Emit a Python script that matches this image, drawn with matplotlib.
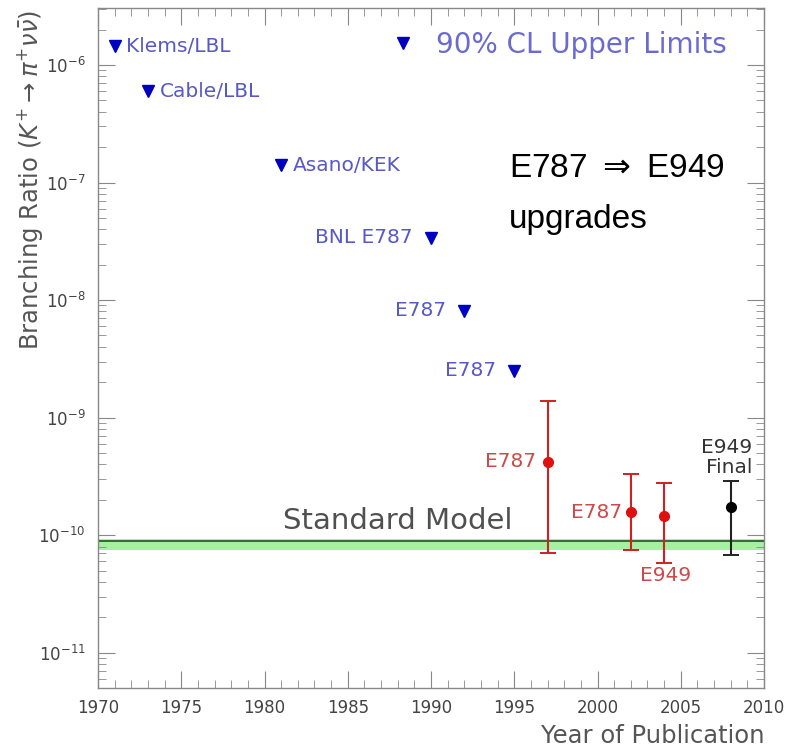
import matplotlib.pyplot as plt
from matplotlib.ticker import MultipleLocator, LogLocator, NullFormatter

# upper limits (90% CL)
ul_years = [1971, 1973, 1981, 1990, 1992, 1995]
ul_values = [1.45e-6, 6.0e-7, 1.4e-7, 3.4e-8, 8.1e-9, 2.5e-9]
ul_labels = ["Klems/LBL", "Cable/LBL", "Asano/KEK", "BNL E787", "E787", "E787"]

# measurements
meas_years = [1997, 2002, 2004]
meas_values = [4.2e-10, 1.57e-10, 1.47e-10]
meas_upper = [13.9e-10, 3.32e-10, 2.77e-10]
meas_lower = [0.70e-10, 0.75e-10, 0.58e-10]
meas_labels = ["E787", "E787", "E949"]

final_year = [2008]
final_value = [1.73e-10]
final_upper = [2.88e-10]
final_lower = [0.68e-10]

# standard model band
sm_line = 9.0e-11
sm_low = 7.5e-11
sm_high = 9.2e-11

y_decades = [-11, -10, -9, -8, -7, -6]

plt.rcParams['font.family'] = 'DejaVu Sans'
plt.rcParams['mathtext.fontset'] = 'dejavusans'

fig = plt.figure(figsize=(7.99, 7.52), dpi=100)
ax = fig.add_axes([0.1227, 0.0851, 0.8335, 0.9043])

ax.set_yscale('log')
ax.set_xlim(1970, 2010)
ax.set_ylim(10**-11.3, 10**-5.515)

gray = '#555555'
blue_txt = '#5858c8'
red_txt = '#d04848'
lab_fs = 14.5

# SM band
ax.axhspan(sm_low, sm_high, color='#a8eea4', lw=0, zorder=1)
ax.axhline(sm_line, color='#2e5e2e', lw=1.3, zorder=2)
ax.text(1988.0, 1.01e-10, "Standard Model", fontsize=21, color='#505050',
        ha='center', va='bottom')

# upper limits
tri, = ax.plot(ul_years, ul_values, linestyle='none', marker='v', ms=8,
               color='#0000c0', zorder=3)
for i, (x, y, lab) in enumerate(zip(ul_years, ul_values, ul_labels)):
    if i < 3:
        ax.text(x + 0.7, y, lab, fontsize=lab_fs, color=blue_txt, ha='left', va='center')
    else:
        ax.text(x - 1.1, y, lab, fontsize=lab_fs, color=blue_txt, ha='right', va='center')

# measurements
for x, y, hi, lo in zip(meas_years, meas_values, meas_upper, meas_lower):
    ax.errorbar([x], [y], yerr=[[y - lo], [hi - y]], fmt='o', ms=7,
                color='#e01010', ecolor='#d02020', elinewidth=1.5, capsize=6,
                capthick=1.4, zorder=4)
ax.text(meas_years[0] - 0.7, meas_values[0], meas_labels[0], fontsize=lab_fs,
        color=red_txt, ha='right', va='center')
ax.text(meas_years[1] - 0.5, meas_values[1], meas_labels[1], fontsize=lab_fs,
        color=red_txt, ha='right', va='center')
ax.text(meas_years[2] + 0.1, meas_lower[2] * 0.95, meas_labels[2], fontsize=lab_fs,
        color=red_txt, ha='center', va='top')

ax.errorbar(final_year, final_value,
            yerr=[[final_value[0] - final_lower[0]], [final_upper[0] - final_value[0]]],
            fmt='o', ms=7, color='black', ecolor='#222222', elinewidth=1.5,
            capsize=6, capthick=1.4, zorder=4)
ax.text(2009.3, 5.6e-10, "E949", fontsize=lab_fs, color='#333333', ha='right', va='center')
ax.text(2009.3, 3.8e-10, "Final", fontsize=lab_fs, color='#333333', ha='right', va='center')

# legend for upper limits
ax.legend([tri], ["90% CL Upper Limits"], loc='center left', frameon=False,
          fontsize=20, labelcolor='#6a6ad0', handlelength=0.6, handletextpad=0.9,
          bbox_to_anchor=(0.445, 0.946), borderaxespad=0, borderpad=0)

ax.text(0.617, 0.7515, r"E787 $\Rightarrow$ E949", transform=ax.transAxes,
        fontsize=24, family='Liberation Sans', color='black', va='baseline')
ax.text(0.617, 0.6765, "upgrades", transform=ax.transAxes,
        fontsize=24, family='Liberation Sans', color='black', va='baseline')

# axes styling
for s in ax.spines.values():
    s.set_color('#888888')
    s.set_linewidth(1.0)
ax.xaxis.set_major_locator(MultipleLocator(5))
ax.xaxis.set_minor_locator(MultipleLocator(1))
ax.set_yticks([10.0**d for d in y_decades],
              [r"$10^{%d}$" % d for d in y_decades])
ax.yaxis.set_minor_locator(LogLocator(base=10, subs=range(2, 10), numticks=20))
ax.yaxis.set_minor_formatter(NullFormatter())
ax.tick_params(which='both', direction='in', top=True, right=True, colors='#888888',
               labelcolor='#444444', labelsize=12)
ax.tick_params(which='major', length=12)
ax.tick_params(which='minor', length=6)
ax.tick_params(axis='x', pad=8)
ax.tick_params(axis='y', pad=9)

ax.set_xlabel("Year of Publication", fontsize=17.5, color=gray, loc='right', labelpad=5)
fig.text(0.038, 0.987, r"Branching Ratio $(K^{+}\rightarrow\pi^{+}\nu\bar{\nu})$",
         rotation=90, fontsize=17.5, color=gray, ha='center', va='top')

fig.savefig("out.png", dpi=100)
